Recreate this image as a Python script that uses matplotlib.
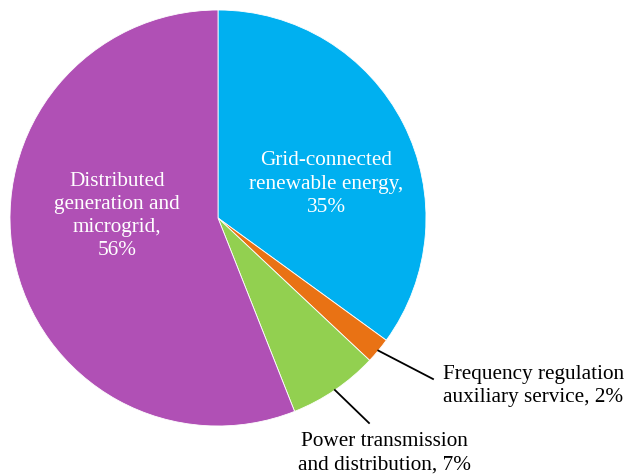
import matplotlib
matplotlib.use("Agg")
import matplotlib.pyplot as plt
from matplotlib import font_manager
import numpy as np

categories = ["Grid-connected\nrenewable energy,\n35%",
              "Frequency regulation\nauxiliary service, 2%",
              "Power transmission\nand distribution, 7%",
              "Distributed\ngeneration and\nmicrogrid,\n56%"]
values = [35, 2, 7, 56]
colors = ["#00B0F0", "#E97214", "#92D050", "#B050B5"]

plt.rcParams['font.family'] = 'serif'
plt.rcParams['font.serif'] = ['Liberation Serif', 'Times New Roman', 'DejaVu Serif']

W, H = 627, 475
cx, cy, R = 218, 218, 208  # pixel center (from top) and radius

fig = plt.figure(figsize=(W / 100, H / 100), dpi=100)
ax = fig.add_axes([0, 0, 1, 1])

wedges, _ = ax.pie(values, colors=colors, startangle=90, counterclock=False,
                   radius=1, center=(0, 0), frame=True,
                   wedgeprops=dict(edgecolor='white', linewidth=0.6))
ax.set_xlim(-cx / R, (W - cx) / R)
ax.set_ylim(-(H - cy) / R, cy / R)
ax.set_aspect('equal')
ax.axis('off')

def px(x, y):
    return ((x - cx) / R, (cy - y) / R)

fs = 15.3
ls = 1.3
ax.text(*px(326, 184), categories[0], color='white', ha='center', va='center',
        fontsize=fs, linespacing=ls)
ax.text(*px(117, 216), categories[3], color='white', ha='center', va='center',
        fontsize=fs, linespacing=ls)

def mid_angle(i):
    start = 90 - 360 * sum(values[:i]) / sum(values)
    end = 90 - 360 * sum(values[:i + 1]) / sum(values)
    return np.deg2rad((start + end) / 2)

a1 = mid_angle(1)
e1 = px(433, 379)
ax.plot([np.cos(a1), e1[0]], [np.sin(a1), e1[1]], color='black', lw=1.3)
ax.text(*px(443, 386), categories[1], color='black', ha='left', va='center',
        fontsize=fs, linespacing=ls)

a2 = mid_angle(2)
e2 = px(369, 423)
ax.plot([np.cos(a2), e2[0]], [np.sin(a2), e2[1]], color='black', lw=1.3)
ax.text(*px(384, 453), categories[2], color='black', ha='center', va='center',
        fontsize=fs, linespacing=ls)

fig.savefig("out.png", dpi=100)
